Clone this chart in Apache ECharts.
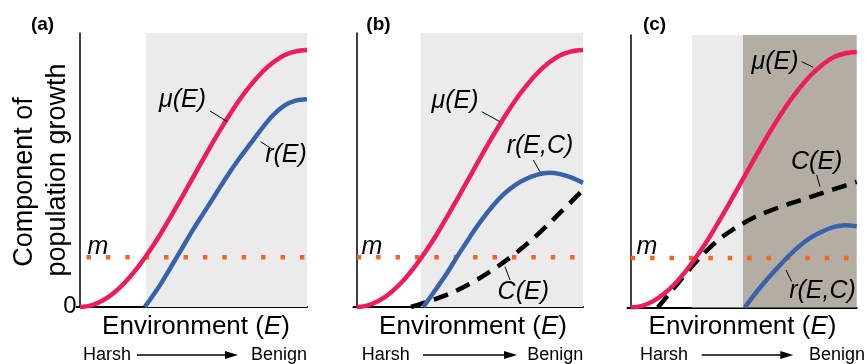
<!DOCTYPE html>
<html><head><meta charset="utf-8">
<script src="https://cdn.jsdelivr.net/npm/echarts@6/dist/echarts.min.js"></script>
<style>html,body{margin:0;padding:0;background:#fff}#c{width:865px;height:364px}</style>
</head><body><div id="c"></div>
<script>
// ---- data (x: environment 0..100, y: component of growth 0..100) ----
const muCurve = [[0,0],[5,0.6],[10,2.35],[15,5.2],[20,9.1],[25,14.0],[30,19.7],[35,26.0],[40,33.0],[45,40.2],[50,47.6],[55,55.0],[60,62.2],[65,69.0],[70,75.3],[75,80.8],[80,85.5],[85,89.2],[90,91.9],[95,93.3],[100,93.8]];
const rA = [[28.5,0],[32,4],[36,9],[40,14.5],[45,21.5],[50,28.5],[55,35],[60,41.5],[65,48],[70,54],[75,59.5],[80,65],[85,70],[90,73.5],[95,75.3],[100,75.8]];
const rB = [[29.4,0],[35,6.5],[40,12.5],[45,19.2],[50,25.5],[55,31.5],[60,36.8],[65,41.2],[70,44.5],[75,46.8],[80,48.3],[85,49],[90,48.5],[95,47.2],[100,45.3]];
const cB = [[24,0],[30,1.6],[40,4.5],[50,8.5],[60,13.5],[70,19.5],[80,26.5],[90,34.5],[100,42.7]];
const cC = [[12,0],[15,3],[20,8],[25,13],[30,17.8],[35,22],[40,25.6],[45,28.5],[50,31],[55,33.2],[60,35],[70,38],[80,40.7],[90,43.4],[100,46.1]];
const rC = [[50.5,0],[55,5],[60,10],[65,14.6],[70,19],[75,22.8],[80,25.8],[85,28],[90,29.6],[95,30.2],[100,29.8]];
const mLevel = 18.2;
const shadeA = [29.1, 100];
const shadeB = [28.3, 100];
const shadeCLight = [27.1, 49.7];
const shadeCDark = [49.7, 100];
const panelLetters = ['(a)', '(b)', '(c)'];

// ---- styles ----
const PINK = '#ee1c5c', BLUE = '#3863aa', ORANGE = '#f26522', LIGHT = '#ebebeb', DARK = '#b3ada4';
const FONT = '"Liberation Sans", Arial, Helvetica, sans-serif';
const grids = [
  {left: 80, top: 33, width: 227, height: 274},
  {left: 356.7, top: 33, width: 226.3, height: 274},
  {left: 630.7, top: 35, width: 226, height: 272.5}
];
const dashOffsets = [12.9, 0, 0];
const shades = [
  [{color: LIGHT, r: shadeA}],
  [{color: LIGHT, r: shadeB}],
  [{color: LIGHT, r: shadeCLight}, {color: DARK, r: shadeCDark}]
];

const xAxes = [], yAxes = [], series = [];
grids.forEach((g, i) => {
  xAxes.push({gridIndex: i, type: 'value', min: 0, max: 100,
    axisLine: {show: true, lineStyle: {color: '#000', width: 2}},
    axisTick: {show: false}, axisLabel: {show: false}, splitLine: {show: false}});
  yAxes.push({gridIndex: i, type: 'value', min: 0, max: 100,
    axisLine: {show: true, lineStyle: {color: '#000', width: 1.5}},
    axisTick: {show: true, customValues: [0], length: 4, lineStyle: {color: '#000', width: 2}},
    axisLabel: {show: false}, splitLine: {show: false}});
  series.push({type: 'line', xAxisIndex: i, yAxisIndex: i, z: 2, symbol: 'none', silent: true,
    data: [[0, mLevel], [100, mLevel]],
    lineStyle: {color: ORANGE, width: 4.5, type: [4.5, 14.9], dashOffset: dashOffsets[i], cap: 'butt'},
    markArea: {silent: true, z: 1, data: shades[i].map(s => [
      {xAxis: s.r[0], yAxis: 0, itemStyle: {color: s.color}}, {xAxis: s.r[1], yAxis: 100}])}
  });
});
function curve(idx, data, color, dashed) {
  series.push({type: 'line', xAxisIndex: idx, yAxisIndex: idx, z: 3, symbol: 'none', silent: true,
    smooth: 0.35, data: data,
    lineStyle: {color: color, width: 4.5, type: dashed ? [15, 9] : 'solid'}});
}
curve(0, muCurve, PINK); curve(0, rA, BLUE);
curve(1, cB, '#000', true); curve(1, muCurve, PINK); curve(1, rB, BLUE);
curve(2, cC, '#000', true); curve(2, muCurve, PINK); curve(2, rC, BLUE);

// ---- annotations ----
const G = [];
function txt(x, y, text, size, opts) {
  opts = opts || {};
  G.push({type: 'text', x: x, y: y, rotation: opts.rot || 0, z: 10,
    style: {text: text, font: (opts.italic ? 'italic ' : '') + (opts.bold ? 'bold ' : '') + size + 'px ' + FONT,
      fill: '#000', textAlign: opts.align || 'center', textVerticalAlign: 'middle', rich: opts.rich}});
}
function seg(x1, y1, x2, y2, w) {
  G.push({type: 'line', z: 10, shape: {x1, y1, x2, y2}, style: {stroke: '#000', lineWidth: w || 1}});
}
// panel letters
txt(42.5, 25, panelLetters[0], 19, {bold: true});
txt(378.5, 25, panelLetters[1], 19, {bold: true});
txt(654.5, 25, panelLetters[2], 19, {bold: true});
// y title
txt(25, 182, 'Component of', 27, {rot: Math.PI / 2});
txt(58, 170, 'population growth', 27, {rot: Math.PI / 2});
txt(70, 306, '0', 24);
// x titles
const envRich = {i: {fontStyle: 'italic', fontSize: 26, fontFamily: FONT}, n: {fontSize: 26, fontFamily: FONT}};
[196, 473, 742.5].forEach(cx => txt(cx, 327, '{n|Environment (}{i|E}{n|)}', 26, {rich: envRich}));
// Harsh -> Benign
[[83, 137, 238, 307], [361.7, 423, 517, 583.3], [640, 701.7, 793.3, 865]].forEach(a => {
  txt(a[0], 355, 'Harsh', 18, {align: 'left'});
  txt(a[3], 355, 'Benign', 18, {align: 'right'});
  G.push({type: 'line', z: 10, shape: {x1: a[1], y1: 355, x2: a[2] - 10, y2: 355}, style: {stroke: '#000', lineWidth: 1.3}});
  G.push({type: 'polygon', z: 10, shape: {points: [[a[2] - 13, 351], [a[2], 355], [a[2] - 13, 359]]}, style: {fill: '#000'}});
});
// curve labels
txt(182.5, 100, 'μ(E)', 25, {italic: true}); seg(210, 111, 227.3, 121.7);
txt(286, 155, 'r(E)', 25, {italic: true}); seg(260.7, 141.7, 273.3, 150);
txt(98, 247, 'm', 25, {italic: true});
txt(455, 101.5, 'μ(E)', 25, {italic: true}); seg(481.7, 111.7, 500, 121.7);
txt(540, 146, 'r(E,C)', 25, {italic: true}); seg(533.3, 160, 540, 171.7);
txt(523.3, 292, 'C(E)', 25, {italic: true}); seg(505, 266.7, 510, 280);
txt(372, 247, 'm', 25, {italic: true});
txt(775, 62.5, 'μ(E)', 25, {italic: true}); seg(801.7, 61.7, 813.3, 67.3);
txt(816.7, 161.7, 'C(E)', 25, {italic: true}); seg(816.7, 175, 820, 186.7);
txt(822.5, 291, 'r(E,C)', 25, {italic: true}); seg(786, 270, 791.7, 281.7);
txt(647, 247, 'm', 25, {italic: true});

const chart = echarts.init(document.getElementById('c'), null, {renderer: 'canvas'});
chart.setOption({
  animation: false, backgroundColor: '#fff',
  grid: grids, xAxis: xAxes, yAxis: yAxes, series: series, graphic: G
});
</script></body></html>
